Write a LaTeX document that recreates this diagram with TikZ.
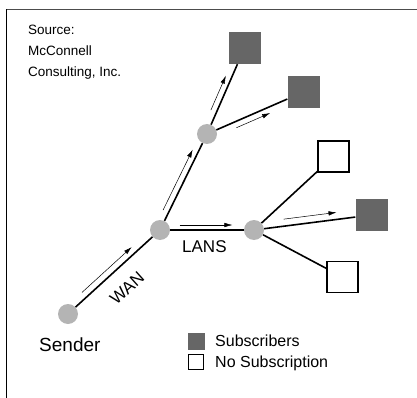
\documentclass[tikz,border=0pt]{standalone}
\usepackage{fontspec}
\setmainfont{Liberation Sans}
\usetikzlibrary{arrows.meta,calc}
\definecolor{subgray}{HTML}{666666}
\definecolor{hubgray}{HTML}{B4B4B4}

\begin{document}
\begin{tikzpicture}[
    x=1pt, y=-1pt,
    hub/.style={circle, fill=hubgray, minimum size=20pt, inner sep=0pt},
    subbox/.style={rectangle, fill=subgray, minimum size=32pt, inner sep=0pt},
    nobox/.style={rectangle, draw=black, line width=1.4pt, fill=white, minimum size=31pt, inner sep=0pt},
    link/.style={line width=1.6pt},
    flow/.style={line width=0.5pt, -{Latex[length=8pt,width=4.5pt]}},
    lbl/.style={inner sep=0pt}
  ]
  \useasboundingbox (0,0) rectangle (417,398);
  \draw[line width=1.5pt, black!70] (6,9.5) -- (417,9.5);
  \draw[line width=1.5pt] (6.5,9.5) -- (6.5,398);

  \node[hub] (snd) at (68,314) {};
  \node[hub] (wan) at (160,230) {};
  \node[hub] (up) at (207,134) {};
  \node[hub] (lan) at (254,230) {};
  \node[subbox] (s1) at (244.5,48) {};
  \node[subbox] (s2) at (303.5,92) {};
  \node[nobox] (n1) at (333.5,156.5) {};
  \node[subbox] (s3) at (371.5,215) {};
  \node[nobox] (n2) at (342.5,277) {};

  \foreach \u/\v in {snd/wan, wan/up, wan/lan, up/s1, up/s2, lan/n1, lan/s3, lan/n2}
    \draw[link] (\u) -- (\v);

  \foreach \u/\v/\p/\q/\o/\a in {snd/wan/0.2/0.74/6.5pt/90, wan/up/0.18/0.81/6pt/90,
      up/s1/0.25/0.65/6pt/90, up/s2/0.28/0.63/6pt/-90,
      wan/lan/0.21/0.77/5pt/90, lan/s3/0.26/0.71/7pt/90}
    \draw[flow] ($(\u)!\p!(\v)!\o!\a:(\v)$) -- ($(\u)!\q!(\v)!\o!\a:(\v)$);

  \node[lbl, anchor=north west, align=left, font=\fontsize{13.5}{21}\selectfont] (src) at (28,25)
    {Source:\\McConnell\\Consulting, Inc.};
  \node[lbl, anchor=base west, font=\fontsize{19}{23}\selectfont] (sndlbl) at (39,351) {Sender};
  \node[lbl, anchor=base west, font=\fontsize{17}{20}\selectfont] (lanlbl) at (182,252) {LANS};
  \node[lbl, rotate=42, font=\fontsize{17}{20}\selectfont] (wanlbl) at (127,288) {WAN};

  \node[subbox, minimum size=17pt] (keysub) at (196,341.5) {};
  \node[nobox, minimum size=15.5pt, line width=1.2pt] (keyno) at (196,362) {};
  \node[lbl, anchor=base west, font=\fontsize{16}{19}\selectfont] (keysubtxt) at (215,346) {Subscribers};
  \node[lbl, anchor=base west, font=\fontsize{16}{19}\selectfont] (keynotxt) at (215,367) {No Subscription};
\end{tikzpicture}
\end{document}
